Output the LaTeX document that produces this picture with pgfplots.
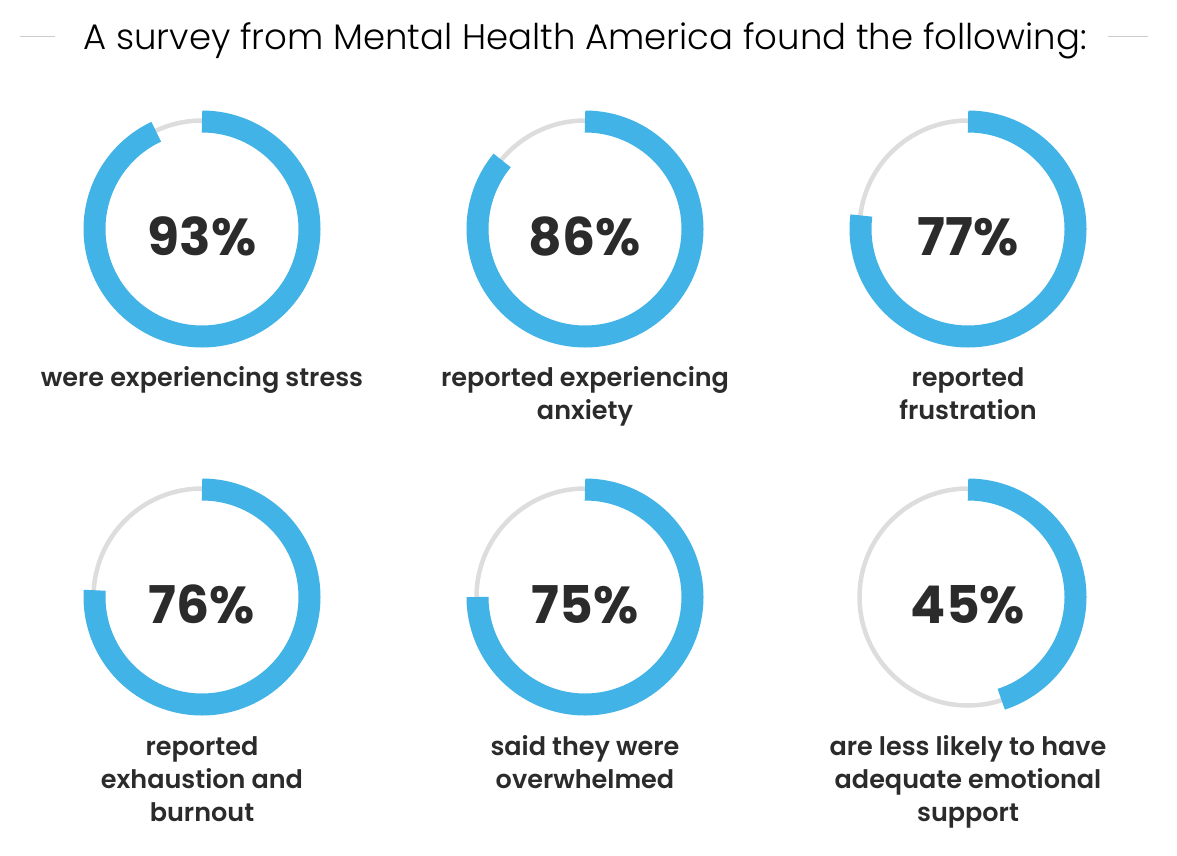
\documentclass[border=0pt]{standalone}
\usepackage{pgfplots}
\usepackage{pgfplotstable}
\pgfplotsset{compat=1.18}
\usepackage{fontspec}
\newfontfamily\titlefont{Poppins Light}
\newfontfamily\statfont{Poppins SemiBold}
\newfontfamily\numfont{Poppins Bold}

\definecolor{ringblue}{HTML}{41B3E6}
\definecolor{ringgrey}{HTML}{DDDDDD}
\definecolor{rulegrey}{HTML}{CCCCCC}
\definecolor{txt}{HTML}{2B2B2B}

% a plot mark that draws nothing; the rings and labels carry the content
\pgfdeclareplotmark{blank}{}

% ring centres (x, y measured downwards) and share in percent
\pgfplotstableread{
x   y   pct
202 229 93
585 229 86
968 229 77
202 597 76
585 597 75
968 597 45
}\stats

\begin{document}
\begin{tikzpicture}
\useasboundingbox (0,0) rectangle (1177pt,856pt);
\begin{axis}[
  at={(0,0)}, anchor=south west,
  scale only axis, width=1177pt, height=856pt,
  xmin=0, xmax=1177, ymin=0, ymax=856, y dir=reverse,
  hide axis, clip=false,
]

% title with short rules on both sides
\node[font=\titlefont\fontsize{35.5}{35.5}\selectfont, text=black, anchor=base]
  at (axis cs:585,50) {A survey from Mental Health America found the following:};
\draw[rulegrey, line width=1pt] (axis cs:20,37) -- (axis cs:55,37);
\draw[rulegrey, line width=1pt] (axis cs:1108,37) -- (axis cs:1148,37);

% one ring per statistic: grey track, blue arc running clockwise from the top
\addplot[
  scatter, only marks, mark=blank,
  point meta=explicit,
  visualization depends on={\thisrow{pct} \as \pct},
  scatter/@pre marker code/.code={%
    \draw[ringgrey, line width=4.5pt] (0,0) circle[radius=108.5pt];
    \draw[ringblue, line width=22pt] (90:107.5pt)
      arc[start angle=90, end angle={90-3.6*\pct}, radius=107.5pt];
  },
  scatter/@post marker code/.code={},
] table[x=x, y=y, meta=pct] {\stats};

% the share printed inside each ring
\addplot[
  only marks, mark=blank,
  point meta=explicit,
  nodes near coords={\pgfmathprintnumber[assume math mode=true,
    fixed, precision=0]{\pgfplotspointmeta}\%},
  every node near coord/.style={anchor=base, yshift=-26pt,
    font=\numfont\fontsize{52}{52}\selectfont, text=txt},
] table[x=x, y=y, meta=pct] {\stats};

% captions under the rings
\addplot[
  only marks, mark=blank,
  point meta=explicit symbolic,
  nodes near coords,
  every node near coord/.style={anchor=north, align=center, inner sep=0pt,
    font=\statfont\fontsize{25.5}{33}\selectfont, text=txt},
] coordinates {
  (202,363.6) [\strut were experiencing stress]
  (585,363.6) [{\strut reported experiencing\\anxiety}]
  (968,363.6) [{\strut reported\\frustration}]
  (202,732.6) [{\strut reported\\exhaustion and\\burnout}]
  (585,732.6) [{\strut said they were\\overwhelmed}]
  (968,732.6) [{\strut are less likely to have\\adequate emotional\\support}]
};
\end{axis}
\end{tikzpicture}
\end{document}
